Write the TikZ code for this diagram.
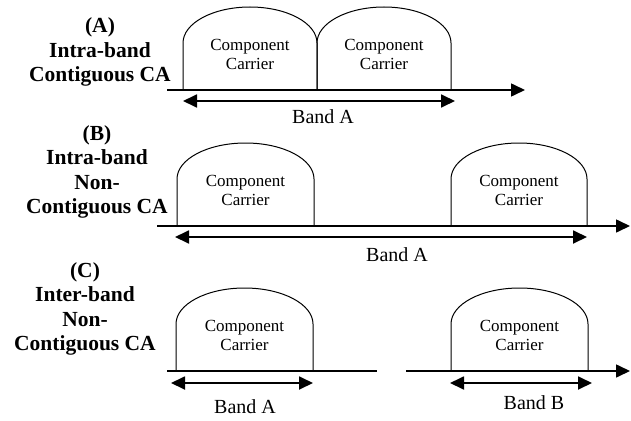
\documentclass[tikz,border=0pt]{standalone}
\usepackage{fontspec}
\setmainfont{Liberation Serif}
\usetikzlibrary{arrows.meta}

% one carrier bump: left x, right x, base line y, name of its label
\newcommand\ccBump[4]{%
  \draw[carrier] (#1,#3) -- (#1,#3-47)
    arc[start angle=180,end angle=360,x radius={(#2-#1)/2},y radius=36]
    -- (#2,#3);
  \node[cctext] (#4) at ({(#1+#2)/2},#3-36) {Component\\Carrier};
}

\begin{document}
\begin{tikzpicture}[x=1pt,y=-1pt,
  tip/.style={Triangle[length=14pt,width=13pt]},
  axis/.style={line width=1.6pt,-{Triangle[length=14pt,width=13pt]}},
  plainaxis/.style={line width=1.6pt},
  band/.style={line width=1.8pt,{Triangle[length=14pt,width=13pt]}-{Triangle[length=14pt,width=13pt]}},
  carrier/.style={line width=1pt},
  cctext/.style={font=\fontsize{17}{19}\selectfont,align=center,inner sep=0pt},
  bandtext/.style={font=\fontsize{20}{22}\selectfont,inner sep=0pt},
  title/.style={font=\fontsize{21.5}{24.5}\selectfont\bfseries,align=center,inner sep=0pt}]
\useasboundingbox (0,0) rectangle (631,420);

% ---------- (A) intra-band contiguous ----------
\node[title] (tA) at (100,52) {(A)\\Intra-band\\Contiguous CA};
\coordinate (axA0) at (167,90);
\coordinate (axA1) at (525,90);
\draw[axis] (axA0) -- (axA1);
\ccBump{183}{317}{90}{ccA1}
\ccBump{317}{451}{90}{ccA2}
\coordinate (bA0) at (183,101);
\coordinate (bA1) at (455,101);
\draw[band] (bA0) -- (bA1);
\node[bandtext] (bandA) at (323,117) {Band A};

% ---------- (B) intra-band non-contiguous ----------
\node[title] (tB) at (97,172) {(B)\\Intra-band\\Non-\\Contiguous CA};
\coordinate (axB0) at (157,226);
\coordinate (axB1) at (630,226);
\draw[axis] (axB0) -- (axB1);
\ccBump{177}{314}{226}{ccB1}
\ccBump{451}{587}{226}{ccB2}
\coordinate (bB0) at (175,237);
\coordinate (bB1) at (587,237);
\draw[band] (bB0) -- (bB1);
\node[bandtext] (bandB) at (397,255) {Band A};

% ---------- (C) inter-band non-contiguous ----------
\node[title] (tC) at (85,309) {(C)\\Inter-band\\Non-\\Contiguous CA};
\coordinate (axC0) at (167,371);
\coordinate (axC1) at (377,371);
\coordinate (axC2) at (406,371);
\coordinate (axC3) at (630,371);
\draw[plainaxis] (axC0) -- (axC1);
\draw[axis] (axC2) -- (axC3);
\ccBump{176}{313}{371}{ccC1}
\ccBump{451}{588}{371}{ccC2}
\coordinate (bC0) at (171,383);
\coordinate (bC1) at (313,383);
\coordinate (bC2) at (450,383);
\coordinate (bC3) at (592,383);
\draw[band] (bC0) -- (bC1);
\draw[band] (bC2) -- (bC3);
\node[bandtext] (bandC1) at (245,407) {Band A};
\node[bandtext] (bandC2) at (534,403) {Band B};
\end{tikzpicture}
\end{document}
